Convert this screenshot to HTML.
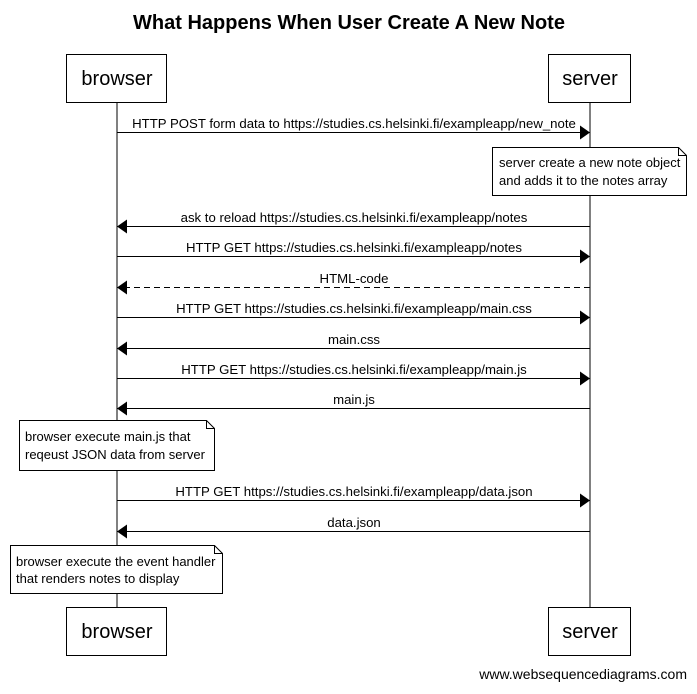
<!DOCTYPE html>
<html><head><style>body{margin:0;background:#fff}</style></head><body>
<svg width="697" height="689" xmlns="http://www.w3.org/2000/svg" font-family="Liberation Sans, sans-serif">
<defs>
<marker id="a" markerWidth="10" markerHeight="14" refX="10" refY="7" orient="auto" markerUnits="userSpaceOnUse"><path d="M0,0 L10,7 L0,14 Z" fill="#000"/></marker>
</defs>
<rect width="697" height="689" fill="#fff"/>
<text x="349" y="29" text-anchor="middle" font-size="20" font-weight="bold">What Happens When User Create A New Note</text>
<g stroke="#000" stroke-width="1" fill="none">
<line x1="117" y1="102" x2="117" y2="607"/>
<line x1="590" y1="102" x2="590" y2="607"/>
<rect x="66.5" y="54.5" width="100" height="48" fill="#fff"/>
<rect x="548.5" y="54.5" width="82" height="48" fill="#fff"/>
<rect x="66.5" y="607.5" width="100" height="48" fill="#fff"/>
<rect x="548.5" y="607.5" width="82" height="48" fill="#fff"/>
</g>
<g font-size="20" text-anchor="middle">
<text x="117" y="85">browser</text><text x="590" y="85">server</text>
<text x="117" y="638">browser</text><text x="590" y="638">server</text>
</g>
<g stroke="#000" stroke-width="1">
<line x1="117" y1="132.5" x2="590" y2="132.5" marker-end="url(#a)"/>
<line x1="590" y1="226.5" x2="117" y2="226.5" marker-end="url(#a)"/>
<line x1="117" y1="256.5" x2="590" y2="256.5" marker-end="url(#a)"/>
<line x1="590" y1="287.5" x2="117" y2="287.5" marker-end="url(#a)" stroke-dasharray="6,4"/>
<line x1="117" y1="317.5" x2="590" y2="317.5" marker-end="url(#a)"/>
<line x1="590" y1="348.5" x2="117" y2="348.5" marker-end="url(#a)"/>
<line x1="117" y1="378.5" x2="590" y2="378.5" marker-end="url(#a)"/>
<line x1="590" y1="408.5" x2="117" y2="408.5" marker-end="url(#a)"/>
<line x1="117" y1="500.5" x2="590" y2="500.5" marker-end="url(#a)"/>
<line x1="590" y1="531.5" x2="117" y2="531.5" marker-end="url(#a)"/>
</g>
<g font-size="13.2" text-anchor="middle">
<text x="354" y="128">HTTP POST form data to https://studies.cs.helsinki.fi/exampleapp/new_note</text>
<text x="354" y="222">ask to reload https://studies.cs.helsinki.fi/exampleapp/notes</text>
<text x="354" y="252">HTTP GET https://studies.cs.helsinki.fi/exampleapp/notes</text>
<text x="354" y="283">HTML-code</text>
<text x="354" y="313">HTTP GET https://studies.cs.helsinki.fi/exampleapp/main.css</text>
<text x="354" y="344">main.css</text>
<text x="354" y="374">HTTP GET https://studies.cs.helsinki.fi/exampleapp/main.js</text>
<text x="354" y="404">main.js</text>
<text x="354" y="496">HTTP GET https://studies.cs.helsinki.fi/exampleapp/data.json</text>
<text x="354" y="527">data.json</text>
</g>
<g stroke="#000" fill="#fff">
<path d="M492.5,147.5 H678.5 L686.5,155.5 V195.5 H492.5 Z"/><path d="M678.5,147.5 V155.5 H686.5" fill="none"/>
<path d="M19.5,420.5 H206.5 L214.5,428.5 V470.5 H19.5 Z"/><path d="M206.5,420.5 V428.5 H214.5" fill="none"/>
<path d="M10.5,545.5 H214.5 L222.5,553.5 V593.5 H10.5 Z"/><path d="M214.5,545.5 V553.5 H222.5" fill="none"/>
</g>
<g font-size="13">
<text x="499" y="167">server create a new note object</text>
<text x="499" y="185">and adds it to the notes array</text>
<text x="25" y="441">browser execute main.js that</text>
<text x="25" y="459">reqeust JSON data from server</text>
<text x="16" y="566">browser execute the event handler</text>
<text x="16" y="583">that renders notes to display</text>
</g>
<text x="687" y="679" text-anchor="end" font-size="14">www.websequencediagrams.com</text>
</svg>
</body></html>
